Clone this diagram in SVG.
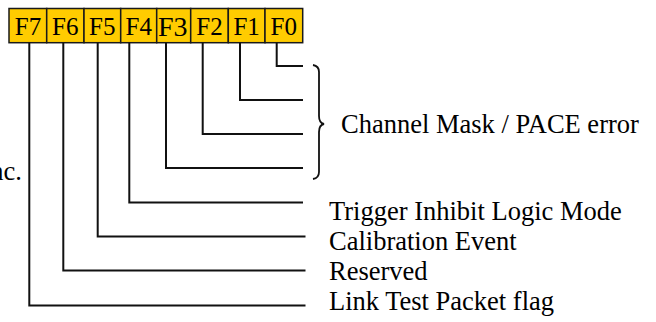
<svg xmlns="http://www.w3.org/2000/svg" width="656" height="322" viewBox="0 0 656 322">
<style>
.box{fill:#FFCC00;stroke:#1a1a1a;stroke-width:1.5}
.bl{font-family:"Liberation Serif","Times New Roman",serif;font-size:25px;fill:#000;text-anchor:middle}
.lbl{font-family:"Liberation Serif","Times New Roman",serif;font-size:26.5px;fill:#000}
.ln{fill:none;stroke:#111;stroke-width:2}
</style>
<rect width="656" height="322" fill="#fff"/>
<g id="F7"><rect class="box" x="9" y="8.5" width="37.7" height="34.2"/><text class="bl" x="28" y="35">F7</text></g>
<g id="F6"><rect class="box" x="46.7" y="8.5" width="37.3" height="34.2"/><text class="bl" x="65.3" y="35">F6</text></g>
<g id="F5"><rect class="box" x="84" y="8.5" width="36.7" height="34.2"/><text class="bl" x="102.3" y="35">F5</text></g>
<g id="F4"><rect class="box" x="120.7" y="8.5" width="36" height="34.2"/><text class="bl" x="138.7" y="35">F4</text></g>
<g id="F3"><rect class="box" x="156.7" y="8.5" width="34" height="34.2"/><text class="bl" x="158" y="36" style="font-size:28px;text-anchor:start">F3</text></g>
<g id="F2"><rect class="box" x="190.7" y="8.5" width="37.6" height="34.2"/><text class="bl" x="209.5" y="35">F2</text></g>
<g id="F1"><rect class="box" x="228.3" y="8.5" width="36.7" height="34.2"/><text class="bl" x="246.6" y="35">F1</text></g>
<g id="F0"><rect class="box" x="265" y="8.5" width="37.7" height="34.2"/><text class="bl" x="283.8" y="35">F0</text></g>
<g id="connectors">
<path class="ln" d="M276.7 42.7V66H303"/>
<path class="ln" d="M240 42.7V100H303"/>
<path class="ln" d="M202.7 42.7V134H303"/>
<path class="ln" d="M166 42.7V168H303"/>
<path class="ln" d="M129.3 42.7V202.5H303"/>
<path class="ln" d="M97.7 42.7V236.5H305.5"/>
<path class="ln" d="M63.3 42.7V270.5H305.5"/>
<path class="ln" d="M29.3 42.7V305.5H305.5"/>
<path class="ln" style="stroke-width:1.8" d="M313 65Q319 66 319 72V116Q319 123 324 124Q319 125 319 132V172Q319 178 313 179"/>
</g>
<g id="labels">
<text class="lbl" x="341" y="133">Channel Mask / PACE error</text>
<text class="lbl" x="329" y="220">Trigger Inhibit Logic Mode</text>
<text class="lbl" x="329" y="250">Calibration Event</text>
<text class="lbl" x="329" y="280">Reserved</text>
<text class="lbl" x="329" y="310">Link Test Packet flag</text>
<text class="lbl" x="22" y="180" text-anchor="end">nc.</text>
</g>
</svg>
